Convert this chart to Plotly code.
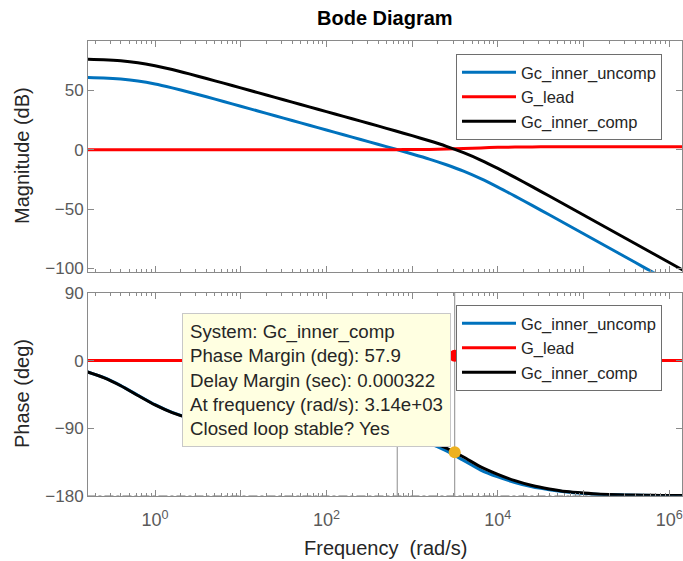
import plotly.graph_objects as go

# ---------------- data ----------------
freq = [0.1585, 0.2512, 0.3981, 0.631, 1.0, 1.585, 2.512, 3.981, 6.31, 10.0,
        15.85, 25.12, 39.81, 63.1, 100.0, 158.5, 251.2, 398.1, 631.0, 1000.0,
        1585.0, 2512.0, 3981.0, 6310.0, 1.0e4, 1.585e4, 2.512e4, 3.981e4, 6.31e4, 1.0e5,
        1.585e5, 2.512e5, 3.981e5, 6.31e5, 1.0e6, 1.585e6]

mag_uncomp = [60.7, 60.3, 59.4, 57.8, 55.3, 52.0, 48.4, 44.5, 40.6, 36.6,
              32.6, 28.6, 24.6, 20.6, 16.6, 12.6, 8.6, 4.6, 0.55, -3.6,
              -7.9, -12.7, -18.1, -24.4, -31.5, -39.1, -46.9, -54.8, -62.8, -70.8,
              -78.8, -86.8, -94.8, -102.8, -110.8, -118.8]
mag_lead = [0, 0, 0, 0, 0, 0, 0, 0, 0, 0,
            0, 0, 0, 0, 0, 0, 0, 0.02, 0.04, 0.09,
            0.22, 0.5, 0.95, 1.5, 1.95, 2.2, 2.35, 2.42, 2.46, 2.48,
            2.5, 2.5, 2.5, 2.5, 2.5, 2.5]
mag_comp = [76.2, 75.8, 74.9, 73.25, 70.7, 67.5, 63.8, 59.9, 56.0, 52.0,
            48.0, 44.0, 40.0, 36.0, 32.0, 28.0, 24.0, 20.0, 15.95, 11.8,
            7.5, 2.85, -2.5, -8.7, -15.75, -23.3, -31.1, -39.0, -47.0, -55.0,
            -63.0, -71.0, -79.0, -87.0, -95.0, -103.0]

ph_uncomp = [-14.7, -22.5, -33.3, -46.2, -58.8, -69.1, -76.5, -81.4, -84.5, -86.7,
             -88.0, -89.0, -89.7, -90.3, -91.0, -91.9, -93.2, -95.2, -98.4, -103.2,
             -110.4, -120.5, -133.0, -145.9, -155.0, -162.4, -168.2, -172.1, -175.1, -177.0,
             -178.3, -178.9, -179.3, -179.6, -179.8, -179.9]
ph_lead = [0, 0, 0, 0, 0, 0, 0, 0, 0, 0,
           0, 0, 0.1, 0.2, 0.3, 0.5, 0.8, 1.25, 2.0, 3.0,
           4.55, 6.3, 7.7, 7.7, 6.3, 4.6, 3.0, 1.96, 1.25, 0.79,
           0.5, 0.31, 0.2, 0.13, 0.08, 0.05]
ph_comp = [-14.8, -22.8, -33.6, -46.5, -59.1, -69.3, -76.6, -81.5, -84.6, -86.6,
           -88.0, -88.9, -89.6, -90.2, -90.8, -91.6, -92.7, -94.5, -97.1, -101.3,
           -107.5, -116.6, -128.5, -141.5, -151.5, -160.0, -166.5, -171.0, -174.5, -176.5,
           -178.0, -178.8, -179.2, -179.5, -179.7, -179.8]

series_names = ["Gc_inner_uncomp", "G_lead", "Gc_inner_comp"]
series_colors = ["#0072BD", "#FF0000", "#000000"]

# stability-margin markers
pm_freq = 3140.0
pm_phase = -122.1
lead_mark_phase = 6.3
wc_uncomp = 670.0
wc_uncomp_phase = -98.9

tick_decades = [1, 10, 100, 1e3, 1e4, 1e5, 1e6]
tick_text = ["10<sup>0</sup>", "", "10<sup>2</sup>", "", "10<sup>4</sup>", "", "10<sup>6</sup>"]
mag_ticks = [-100, -50, 0, 50]
phase_ticks = [-180, -90, 0, 90]

tooltip_lines = ["System: Gc_inner_comp",
                 "Phase Margin (deg): 57.9",
                 "Delay Margin (sec): 0.000322",
                 "At frequency (rad/s): 3.14e+03",
                 "Closed loop stable? Yes"]

# ---------------- figure ----------------
W, H = 683, 561
FONT = "Liberation Sans, Arial, Helvetica, sans-serif"
AX = "#8a8a8a"
TICKC = "#5a5a5a"

fig = go.Figure()

# reference lines (drawn first)
fig.add_trace(go.Scatter(x=[freq[0], freq[-1]], y=[-180, -180], mode="lines",
                         line=dict(color=AX, width=1, dash="dashdot"),
                         showlegend=False, hoverinfo="skip", xaxis="x2", yaxis="y2"))
fig.add_trace(go.Scatter(x=[pm_freq, pm_freq], y=[-180, 90], mode="lines",
                         line=dict(color="#8c8c8c", width=1),
                         showlegend=False, hoverinfo="skip", xaxis="x2", yaxis="y2"))
fig.add_trace(go.Scatter(x=[wc_uncomp, wc_uncomp], y=[-180, wc_uncomp_phase], mode="lines",
                         line=dict(color="#8c8c8c", width=1),
                         showlegend=False, hoverinfo="skip", xaxis="x2", yaxis="y2"))

mags = [mag_uncomp, mag_lead, mag_comp]
phs = [ph_uncomp, ph_lead, ph_comp]
for name, col, m in zip(series_names, series_colors, mags):
    fig.add_trace(go.Scatter(x=freq, y=m, mode="lines", name=name,
                             line=dict(color=col, width=3, shape="spline", smoothing=0.6),
                             legend="legend", xaxis="x", yaxis="y"))
for name, col, p in zip(series_names, series_colors, phs):
    fig.add_trace(go.Scatter(x=freq, y=p, mode="lines", name=name,
                             line=dict(color=col, width=3, shape="spline", smoothing=0.6),
                             legend="legend2", xaxis="x2", yaxis="y2"))

# margin markers
fig.add_trace(go.Scatter(x=[pm_freq], y=[lead_mark_phase], mode="markers",
                         marker=dict(color="#FF0000", size=12),
                         showlegend=False, hoverinfo="skip", xaxis="x2", yaxis="y2"))
fig.add_trace(go.Scatter(x=[pm_freq], y=[pm_phase], mode="markers",
                         marker=dict(color="#EDB120", size=12),
                         showlegend=False, hoverinfo="skip", xaxis="x2", yaxis="y2"))

x_left, x_right = 88, 682
xr = [-0.782, 6.149]
xdom = [x_left / W, x_right / W]

def xax(**kw):
    d = dict(type="log", range=xr, domain=xdom, showline=True, linecolor=AX, linewidth=1,
             mirror="allticks", ticks="inside", ticklen=6, tickcolor=AX,
             tickvals=tick_decades, showgrid=False, zeroline=False,
             minor=dict(ticks="inside", ticklen=3, tickcolor=AX, dtick="D1", showgrid=False),
             tickfont=dict(family=FONT, size=18, color=TICKC), automargin=False)
    d.update(kw)
    return d

def yax(**kw):
    d = dict(showline=True, linecolor=AX, linewidth=1, mirror="allticks",
             ticks="inside", ticklen=6, tickcolor=AX, showgrid=False, zeroline=False,
             tickfont=dict(family=FONT, size=17, color=TICKC), automargin=False)
    d.update(kw)
    return d

fig.update_layout(
    width=W, height=H, margin=dict(l=0, r=0, t=0, b=0, pad=0), autosize=False,
    paper_bgcolor="white", plot_bgcolor="white",
    font=dict(family=FONT, color="#262626"),
    xaxis=xax(anchor="y", showticklabels=False),
    xaxis2=xax(anchor="y2", ticktext=tick_text, ticklabelstandoff=8),
    yaxis=yax(anchor="x", domain=[1 - 271.7 / H, 1 - 40.5 / H], range=[-102.7, 91.9],
              tickvals=mag_ticks),
    yaxis2=yax(anchor="x2", domain=[1 - 495.7 / H, 1 - 293 / H], range=[-180, 90],
               tickvals=phase_ticks),
    legend=dict(x=456 / W, y=1 - 54 / H, xanchor="left", yanchor="top",
                bgcolor="white", bordercolor="#6e6e6e", borderwidth=1,
                font=dict(family=FONT, size=16.5, color="#262626"), itemwidth=54,
                tracegroupgap=0),
    legend2=dict(x=456 / W, y=1 - 305 / H, xanchor="left", yanchor="top",
                 bgcolor="white", bordercolor="#6e6e6e", borderwidth=1,
                 font=dict(family=FONT, size=16.5, color="#262626"), itemwidth=54,
                 tracegroupgap=0),
    showlegend=True,
)

fig.add_annotation(text="<b>Bode Diagram</b>", xref="paper", yref="paper",
                   x=(x_left + x_right) / 2 / W, y=1 - 18 / H, xanchor="center", yanchor="middle",
                   showarrow=False, font=dict(family=FONT, size=20, color="#000000"))
fig.add_annotation(text="Magnitude (dB)", xref="paper", yref="paper", textangle=-90,
                   x=22 / W, y=1 - 156 / H, xanchor="center", yanchor="middle",
                   showarrow=False, font=dict(family=FONT, size=20, color="#262626"))
fig.add_annotation(text="Phase (deg)", xref="paper", yref="paper", textangle=-90,
                   x=22 / W, y=1 - 394 / H, xanchor="center", yanchor="middle",
                   showarrow=False, font=dict(family=FONT, size=20, color="#262626"))
fig.add_annotation(text="Frequency\u00a0 (rad/s)", xref="paper", yref="paper",
                   x=(x_left + x_right) / 2 / W, y=1 - 548 / H, xanchor="center", yanchor="middle",
                   showarrow=False, font=dict(family=FONT, size=20, color="#262626"))
fig.add_annotation(text="<br>".join(tooltip_lines), xref="paper", yref="paper",
                   x=182 / W, y=1 - 313 / H, xanchor="left", yanchor="top", align="left",
                   showarrow=False, bgcolor="#FFFFE1", bordercolor="#c8c8c8", borderwidth=1,
                   borderpad=7, font=dict(family=FONT, size=18.7, color="#262626"))

fig.write_html("out.html")
